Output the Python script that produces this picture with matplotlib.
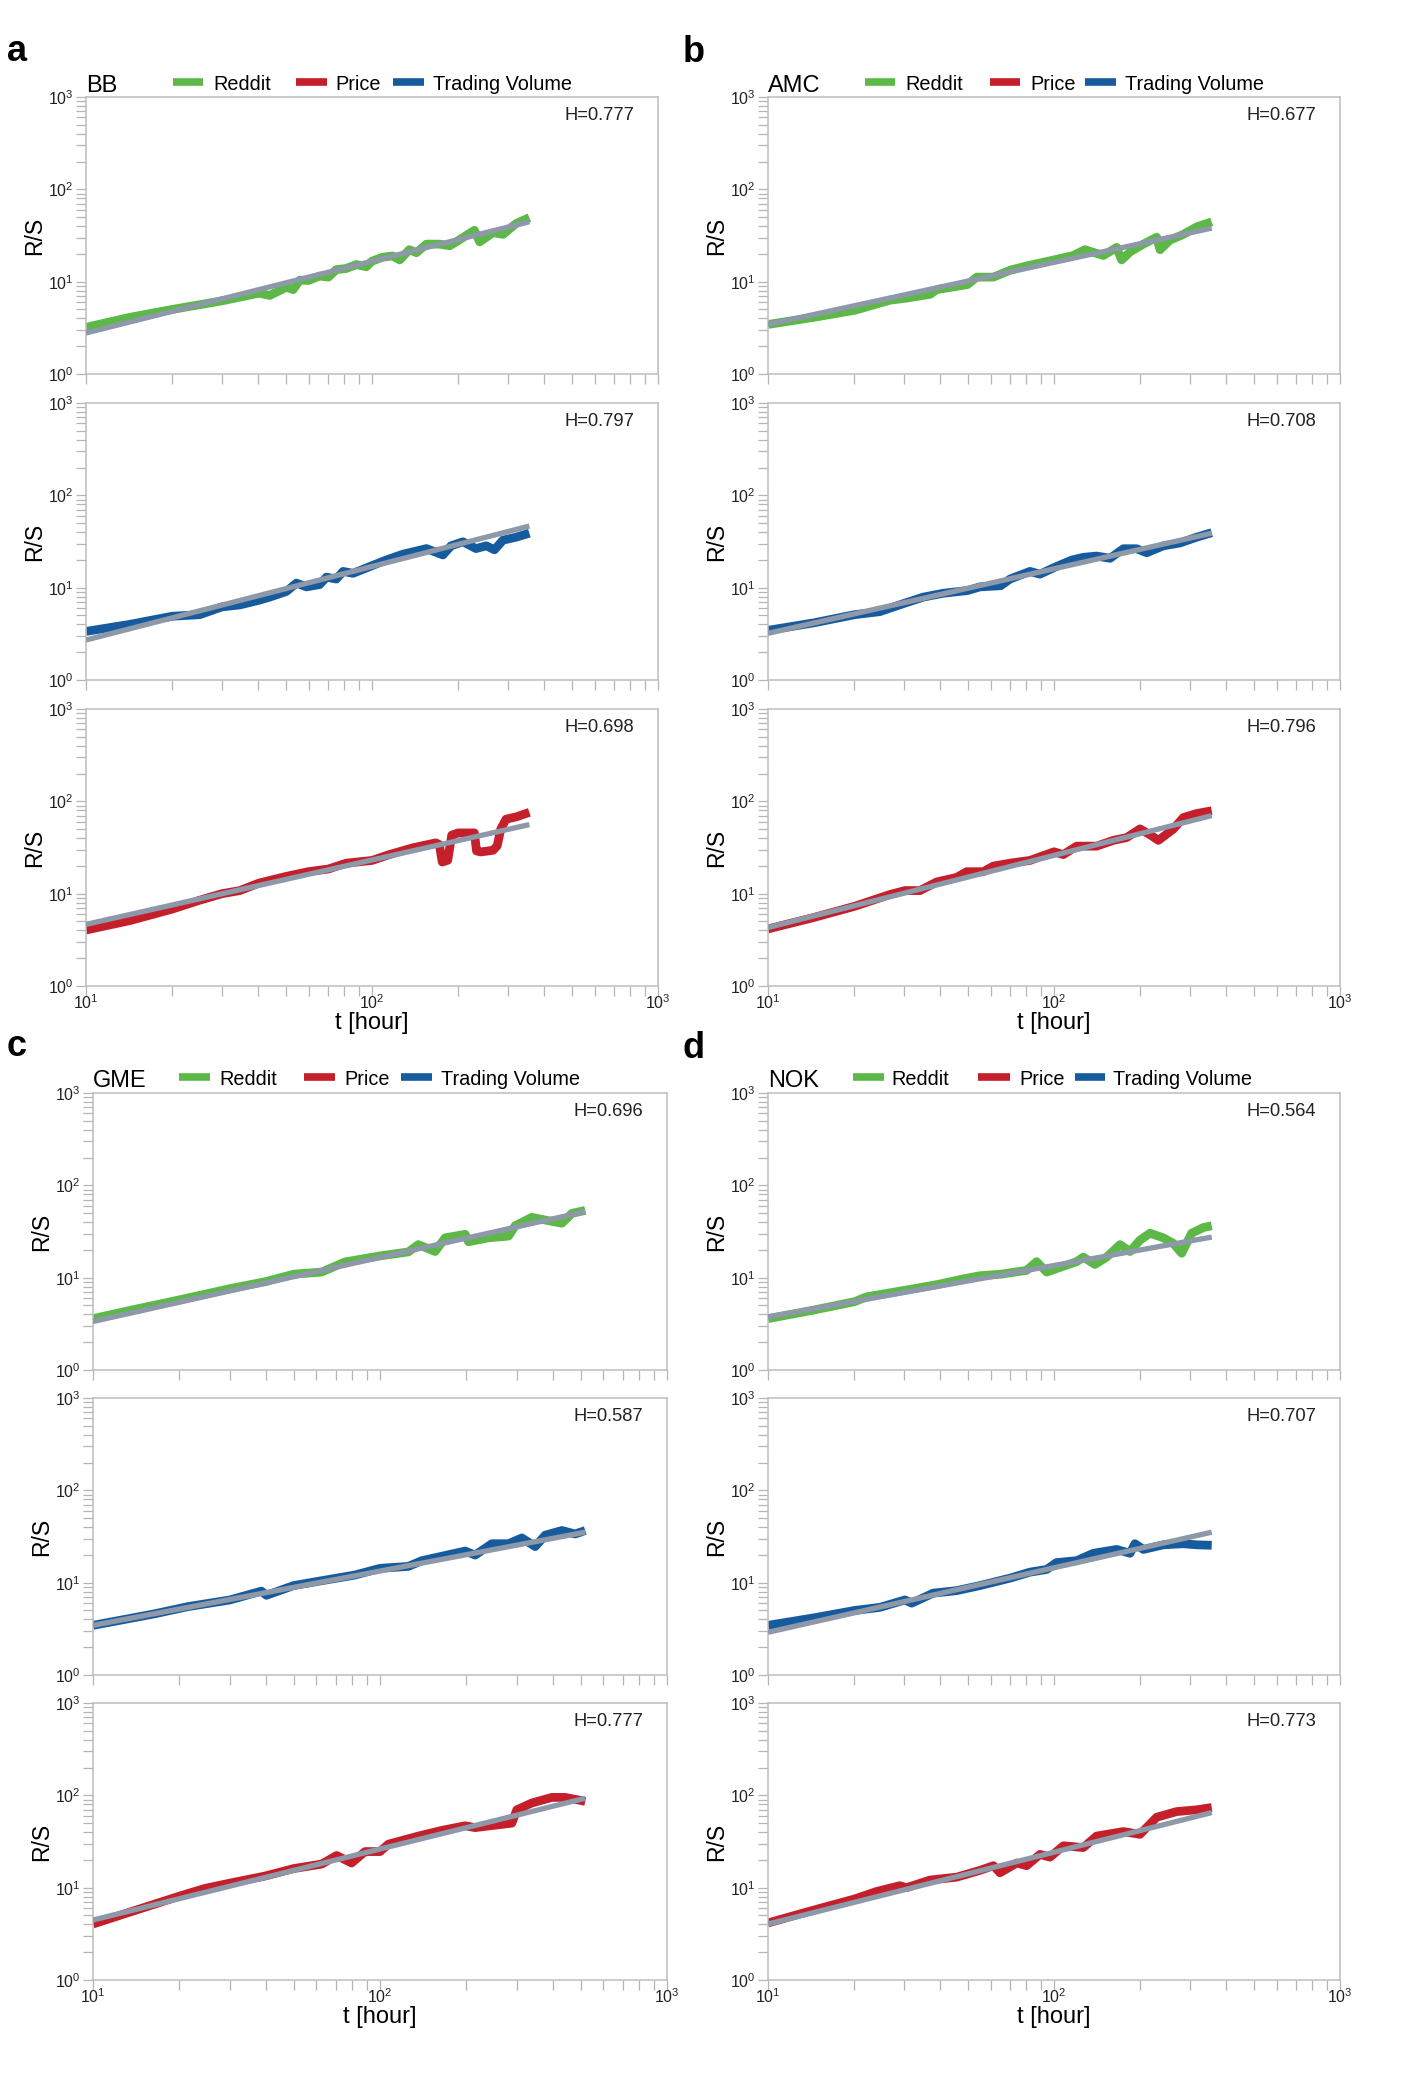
import matplotlib
matplotlib.use("Agg")
import matplotlib.pyplot as plt
from matplotlib.lines import Line2D
from matplotlib.ticker import NullFormatter, LogLocator

plt.rcParams['font.family'] = ['Liberation Sans', 'DejaVu Sans']
plt.rcParams['mathtext.fontset'] = 'custom'
plt.rcParams['mathtext.rm'] = 'Liberation Sans'
plt.rcParams['mathtext.it'] = 'Liberation Sans:italic'
plt.rcParams['mathtext.bf'] = 'Liberation Sans:bold'

# ---------------- data ----------------
series_names = ["Reddit", "Price", "Trading Volume"]
stocks = ["BB", "AMC", "GME", "NOK"]
panel_letters = ["a", "b", "c", "d"]

# BB
bb_reddit_t = [10, 14.2, 20, 29.9, 40.2, 43.9, 50.2, 53, 55.9, 59.9, 65.6, 70.4, 75, 81.3, 88.2, 95.5,
               100, 109, 118, 125, 135, 143, 155, 172, 187, 200, 228, 238, 265, 287, 319, 355]
bb_reddit = [3.2, 4.1, 5.0, 6.2, 7.5, 7.1, 8.7, 8.2, 10.4, 10.3, 11.5, 11.2, 13.5, 13.9, 15.3, 14.5,
             16.7, 18.4, 19.0, 17.2, 22.2, 20.6, 25.5, 25.5, 24.5, 27.8, 36, 27, 34, 32.5, 42.6, 49.4]
bb_volume_t = [10, 14.2, 20, 25, 29.9, 34.5, 40.2, 43.9, 50.2, 54.4, 59, 65.6, 69.3, 75, 79.2, 85.8,
               100, 112, 128, 155, 177, 189, 208, 231, 251, 268, 287, 319, 355]
bb_volume = [3.36, 4.0, 4.9, 5.1, 6.2, 6.5, 7.3, 7.9, 9.1, 11.2, 10.2, 10.8, 13.0, 12.4, 15.0, 14.3,
             17.3, 19.9, 23.0, 26.5, 22.6, 28.4, 31.4, 26.5, 28.4, 25.7, 32.7, 35.2, 38.9]
bb_price_t = [10, 14.2, 20, 25, 29.9, 34.5, 40.2, 50.2, 59.9, 70.4, 81.3, 100, 115, 139, 167, 172,
              176, 184, 190, 200, 228, 232, 240, 265, 274, 282, 294, 320, 355]
bb_price = [4.04, 5.1, 6.8, 8.5, 10.0, 10.8, 13.0, 15.4, 17.3, 18.5, 21.4, 22.9, 26.5, 31.4, 35.5, 34,
            22, 23, 43, 45.5, 45.5, 29, 28.3, 29.5, 33, 50, 64, 68, 76]

# AMC
amc_reddit_t = [10, 14.4, 20.1, 26.7, 30.1, 36.9, 38.9, 49.8, 53.7, 61.4, 70.2, 80.2, 100, 116.8,
                128.3, 148.8, 165.6, 172.4, 184.4, 205.3, 228.6, 234.8, 254.4, 283.2, 315.4, 356]
amc_reddit = [3.44, 4.1, 4.9, 6.3, 6.6, 7.3, 8.2, 9.3, 11.2, 11.2, 13.3, 14.8, 17.2, 19.2,
              22.2, 19.2, 23.5, 17.2, 21, 25.5, 30.3, 22.2, 28.2, 32.5, 39.2, 44.5]
amc_volume_t = [10, 14.4, 20.1, 24.6, 30.1, 34.9, 41.0, 49.8, 55.1, 65.1, 70.2, 82.4, 89.3, 100,
                115.3, 126.6, 140.9, 157, 174.8, 194.5, 211, 241.2, 275.8, 315.4, 356]
amc_volume = [3.45, 4.15, 5.1, 5.5, 6.8, 7.9, 8.7, 9.3, 10.2, 10.5, 12.4, 15, 14, 16.5,
              19.9, 21.3, 22, 20.8, 26.4, 26.4, 23.9, 28.4, 30.5, 35.2, 39.4]
amc_price_t = [10, 14.4, 20.1, 26.7, 30.1, 34.0, 38.9, 45.7, 49.5, 56.6, 61.4, 70.2, 82.4, 100,
               107.8, 120, 140.9, 161.2, 179.5, 199.8, 216.6, 231.7, 261.3, 283.2, 315.4, 356]
amc_price = [4.15, 5.5, 7.3, 9.8, 10.8, 10.8, 13.4, 15, 17.3, 17.3, 19.9, 21.4, 22.9, 28.4,
             26.5, 32.7, 32.7, 37.8, 40.5, 50.3, 43.5, 37.8, 50, 66.7, 73.8, 79]

# GME
gme_reddit_t = [10, 13.6, 20.0, 30.0, 39.9, 50.0, 62.6, 75.5, 100, 125.5, 136, 155.6, 168.6, 198,
                203.3, 238.8, 280.4, 295.8, 338, 386.6, 430.2, 466.3, 519]
gme_reddit = [3.6, 4.45, 5.75, 7.6, 9.05, 10.9, 11.5, 14.8, 17.2, 19, 22.8, 19.2, 27, 29.5,
              24.5, 27, 28.2, 36.5, 45, 41.4, 38.9, 49.7, 53.5]
gme_volume_t = [10, 16.4, 21.4, 30.0, 38.6, 40.2, 50.0, 62.6, 81.8, 100, 125.5, 139.8, 198, 214.5,
                245.2, 280.4, 312, 347.3, 376.4, 430.2, 478.6, 519]
gme_volume = [3.45, 4.6, 5.5, 6.5, 8.1, 7.3, 9.3, 10.5, 12.1, 14.3, 15, 17.3, 22, 19.9,
              26.4, 26.4, 30.5, 24.6, 32.7, 36.7, 33.7, 36.7]
gme_price_t = [10, 13.6, 20.0, 24.5, 30.0, 39.9, 50.0, 62.6, 70.6, 79.6, 88.7, 100, 107, 136,
               164.1, 198, 214.5, 288, 299.7, 338, 397.2, 442, 519]
gme_price = [4.04, 5.5, 8.1, 9.8, 11.2, 13.4, 16.1, 18, 22.3, 18.5, 24.6, 24.6, 29.6, 36.2,
             41.7, 46.8, 44.7, 50, 69.7, 82.6, 95, 95, 86]

# NOK
nok_reddit_t = [10, 14.4, 20.1, 22.1, 30.1, 38.9, 48.2, 55.1, 65.1, 80.2, 86.9, 94.3, 107.8, 120,
                126.6, 139, 152.8, 170.1, 184.4, 199.8, 216.6, 241.2, 261.3, 279.5, 302.9, 332.7, 356]
nok_reddit = [3.6, 4.45, 5.5, 6.2, 7.3, 8.4, 9.7, 10.5, 10.9, 12, 14.9, 11.5, 13.3, 14.9,
              16.7, 13.9, 16.7, 22.8, 19.2, 25.5, 30.3, 27, 23.5, 18.4, 30.3, 34.9, 36.5]
nok_volume_t = [10, 14.4, 20.1, 24.6, 30.1, 31.8, 37.8, 45.7, 55.1, 70.2, 82.4, 94.3, 102, 120,
                137.2, 165.6, 184.4, 191.9, 205.3, 241.2, 283.2, 315.4, 356]
nok_volume = [3.45, 4.15, 5.0, 5.4, 6.5, 6.0, 7.7, 8.2, 9.3, 11.2, 13, 13.9, 16.5, 17.3,
              20.8, 22.9, 20.8, 26.4, 22.9, 25.7, 26.4, 25.7, 25.4]
nok_price_t = [10, 14.4, 20.1, 24.0, 28.9, 30.5, 36.9, 45.7, 55.1, 61.4, 64.7, 74.1, 80.2, 89.3,
               96.8, 107.8, 126.6, 140.9, 174.8, 199.8, 228.6, 268.5, 315.4, 356]
nok_price = [4.15, 5.7, 7.55, 9.1, 10.5, 10.0, 12.1, 13, 15.4, 17.3, 14.5, 18.5, 17.3, 22.9,
             21.4, 28.4, 27.2, 36.2, 40.5, 37.8, 57.9, 66.7, 69.7, 73.8]

# fitted lines: [t_start, t_end], [R/S start, R/S end] per row (Reddit, Volume, Price)
fit_t = {"BB": [10, 355], "AMC": [10, 356], "GME": [10, 519], "NOK": [10, 356]}
fit_rs = {
    "BB": [[2.78, 44.6], [2.71, 46.5], [4.65, 56]],
    "AMC": [[3.44, 38], [3.2, 38.9], [4.3, 70]],
    "GME": [[3.35, 52], [3.45, 35.2], [4.46, 93]],
    "NOK": [[3.75, 27.5], [2.9, 35.2], [4.04, 65]],
}
hurst = {
    "BB": [0.777, 0.797, 0.698],
    "AMC": [0.677, 0.708, 0.796],
    "GME": [0.696, 0.587, 0.777],
    "NOK": [0.564, 0.707, 0.773],
}
curves = {
    "BB": [(bb_reddit_t, bb_reddit), (bb_volume_t, bb_volume), (bb_price_t, bb_price)],
    "AMC": [(amc_reddit_t, amc_reddit), (amc_volume_t, amc_volume), (amc_price_t, amc_price)],
    "GME": [(gme_reddit_t, gme_reddit), (gme_volume_t, gme_volume), (gme_price_t, gme_price)],
    "NOK": [(nok_reddit_t, nok_reddit), (nok_volume_t, nok_volume), (nok_price_t, nok_price)],
}

# ---------------- style ----------------
GREEN = '#5cb947'
RED = '#c41f2b'
BLUE = '#175b9f'
GRAY = '#8d98a8'
SPINE = '#bdbdbd'
row_colors = [GREEN, BLUE, RED]
legend_colors = [GREEN, RED, BLUE]

W, H = 1411, 2083
fig = plt.figure(figsize=(W / 100, H / 100), dpi=100)

def fx(x):
    return x / W

def fy(y):
    return 1 - y / H

# layout in pixels: (axes left, axes right, [row tops])
layout = {
    "BB": (86, 658, [97, 403, 709]),
    "AMC": (768, 1340, [97, 403, 709]),
    "GME": (93, 667, [1093, 1398, 1703]),
    "NOK": (768, 1340, [1093, 1398, 1703]),
}
ax_h = 277

legend_px = {
    "BB": (86, [(173, 203), (296, 327), (393, 424)], [213, 335, 433], 82),
    "AMC": (768, [(865, 895), (990, 1020), (1085, 1116)], [905, 1030, 1125], 82),
    "GME": (93, [(179, 210), (304, 335), (401, 432)], [219, 344, 441], 1077),
    "NOK": (768, [(853, 884), (978, 1010), (1075, 1105)], [891, 1019, 1113], 1077),
}
letter_px = {"a": (7, 61), "b": (683, 62), "c": (7, 1056), "d": (683, 1058)}

for si, stock in enumerate(stocks):
    left, right, tops = layout[stock]
    for r in range(3):
        top = tops[r]
        ax = fig.add_axes([fx(left), fy(top + ax_h), (right - left) / W, ax_h / H])
        ax.set_xscale('log')
        ax.set_yscale('log')
        ax.set_xlim(10, 1000)
        ax.set_ylim(1, 1000)
        t, v = curves[stock][r]
        ax.plot(t, v, color=row_colors[r], lw=6.3, solid_capstyle='butt',
                solid_joinstyle='round', zorder=2)
        ax.plot(fit_t[stock], fit_rs[stock][r], color=GRAY, lw=3.8,
                solid_capstyle='butt', zorder=3)
        ax.text(0.958, 0.932, f"H={hurst[stock][r]:.3f}", transform=ax.transAxes,
                ha='right', va='center', fontsize=13.2, color='#222222')
        for sp in ax.spines.values():
            sp.set_color(SPINE)
            sp.set_linewidth(1.1)
        ax.xaxis.set_major_locator(LogLocator(base=10, numticks=5))
        ax.xaxis.set_minor_locator(LogLocator(base=10, subs=range(2, 10), numticks=20))
        ax.yaxis.set_major_locator(LogLocator(base=10, numticks=5))
        ax.yaxis.set_minor_locator(LogLocator(base=10, subs=range(2, 10), numticks=20))
        ax.xaxis.set_minor_formatter(NullFormatter())
        ax.yaxis.set_minor_formatter(NullFormatter())
        ax.tick_params(axis='both', which='both', direction='out', length=7.5,
                       width=0.9, color='#b5b5b5', labelsize=11.5, labelcolor='#222222')
        ax.tick_params(axis='x', which='both', pad=-2)
        ax.tick_params(axis='y', which='both', pad=1.5)
        ax.set_ylabel("R/S", fontsize=16.5)
        ax.yaxis.set_label_coords(-40 / (right - left), 0.5)
        if r < 2:
            ax.tick_params(axis='x', labelbottom=False)
        else:
            ax.set_xlabel("t [hour]", fontsize=17)
            ax.xaxis.set_label_coords(0.5, -37 / ax_h)
            ax.xaxis.label.set_va('center')

    # title and legend
    tx, patches, texts, ly = legend_px[stock]
    fig.text(fx(tx), fy(ly + 10), stock, fontsize=17, ha='left', va='baseline')
    for (x0, x1), tx2, name, col in zip(patches, texts, series_names, legend_colors):
        fig.add_artist(Line2D([fx(x0), fx(x1)], [fy(ly), fy(ly)], color=col, lw=5.5,
                              solid_capstyle='butt', transform=fig.transFigure))
        fig.text(fx(tx2), fy(ly + 8), name, fontsize=14.3, ha='left', va='baseline')

for letter, (lx, ly) in letter_px.items():
    fig.text(fx(lx), fy(ly), letter, fontsize=26, fontweight='bold', ha='left', va='baseline')

fig.savefig("out.png", dpi=100, facecolor='white')
